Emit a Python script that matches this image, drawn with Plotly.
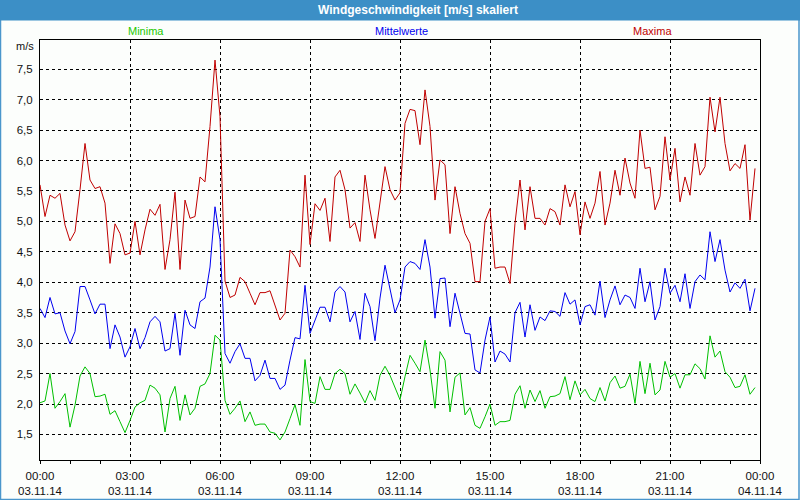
import pandas as pd
import plotly.graph_objects as go

# 10-minute values, 03.11.14 00:00 .. 23:50
times = pd.date_range("2014-11-03 00:00", periods=144, freq="10min")

maxima = [5.60, 5.08, 5.43, 5.38, 5.46, 4.94, 4.68, 4.83, 5.52, 6.28,
          5.68, 5.54, 5.57, 5.30, 4.31, 4.96, 4.80, 4.45, 4.48, 5.00,
          4.45, 4.86, 5.20, 5.10, 5.28, 4.21, 4.70, 5.48, 4.21, 5.35,
          5.05, 5.08, 5.73, 5.65, 6.56, 7.65, 6.72, 4.02, 3.75, 3.79,
          4.08, 4.01, 3.82, 3.63, 3.83, 3.83, 3.86, 3.60, 3.38, 3.49,
          4.53, 4.42, 4.25, 5.76, 4.62, 5.29, 5.18, 5.38, 4.67, 5.73,
          5.84, 5.52, 4.89, 4.98, 4.67, 5.76, 5.19, 4.72, 5.35, 5.90,
          5.52, 5.35, 5.47, 6.61, 6.84, 6.82, 6.26, 7.16, 6.56, 5.35,
          6.01, 5.93, 4.80, 5.57, 5.13, 4.80, 4.64, 4.01, 4.01, 5.00,
          5.21, 4.23, 4.25, 4.25, 3.98, 4.97, 5.68, 4.86, 5.57, 5.05,
          5.05, 4.94, 5.21, 5.16, 4.94, 5.60, 5.24, 5.49, 4.78, 5.32,
          5.05, 5.30, 5.82, 4.94, 5.30, 5.84, 5.43, 6.04, 5.63, 5.38,
          6.50, 5.87, 5.89, 5.19, 5.41, 6.39, 5.68, 6.20, 5.32, 5.73,
          5.43, 6.28, 5.76, 5.90, 7.04, 6.47, 7.04, 6.28, 5.83, 5.95,
          5.87, 6.26, 5.02, 5.87]

mittel = [3.57, 3.42, 3.75, 3.48, 3.50, 3.20, 2.99, 3.19, 3.93, 3.93,
          3.71, 3.48, 3.64, 3.64, 2.91, 3.30, 3.10, 2.77, 2.94, 3.24,
          2.91, 3.09, 3.35, 3.44, 3.35, 2.87, 2.91, 3.49, 2.80, 3.54,
          3.30, 3.24, 3.68, 3.74, 4.25, 5.24, 4.70, 2.83, 2.67, 2.86,
          2.99, 2.75, 2.75, 2.38, 2.47, 2.72, 2.42, 2.42, 2.24, 2.31,
          2.72, 3.09, 3.07, 3.95, 3.16, 3.38, 3.59, 3.59, 3.35, 3.84,
          3.93, 3.84, 3.35, 3.52, 3.06, 3.82, 3.60, 3.04, 3.74, 4.28,
          3.87, 3.50, 3.71, 4.25, 4.34, 4.31, 4.21, 4.70, 4.25, 3.41,
          4.06, 4.07, 3.27, 3.82, 3.49, 3.16, 3.15, 2.56, 2.51, 3.05,
          3.43, 2.69, 2.87, 2.82, 2.69, 3.50, 3.67, 3.10, 3.63, 3.21,
          3.43, 3.37, 3.53, 3.52, 3.44, 3.83, 3.64, 3.71, 3.30, 3.60,
          3.63, 3.46, 4.02, 3.42, 3.71, 3.94, 3.63, 3.79, 3.75, 3.57,
          4.23, 3.68, 4.01, 3.38, 3.60, 4.23, 3.82, 3.95, 3.68, 4.14,
          3.57, 4.01, 4.12, 4.04, 4.83, 4.34, 4.70, 4.20, 3.84, 3.99,
          3.90, 4.05, 3.53, 3.90]

minima = [2.02, 2.05, 2.50, 1.93, 2.04, 2.17, 1.62, 1.98, 2.46, 2.61,
          2.50, 2.12, 2.13, 2.16, 1.83, 1.89, 1.71, 1.53, 1.73, 1.95,
          2.02, 2.06, 2.31, 2.26, 2.15, 1.54, 2.09, 2.29, 1.73, 2.15,
          1.82, 1.93, 2.29, 2.33, 2.50, 3.13, 3.05, 2.06, 1.83, 1.93,
          2.05, 1.71, 1.87, 1.65, 1.67, 1.67, 1.54, 1.52, 1.41, 1.54,
          1.76, 1.99, 1.65, 2.73, 2.04, 2.01, 2.45, 2.24, 2.24, 2.50,
          2.57, 2.50, 2.16, 2.33, 2.18, 2.02, 2.22, 2.06, 2.47, 2.62,
          2.47, 2.28, 2.07, 2.45, 2.80, 2.67, 2.53, 3.05, 2.56, 1.93,
          2.86, 2.72, 1.87, 2.44, 2.51, 1.82, 1.94, 1.65, 1.60, 1.79,
          2.00, 1.65, 1.71, 1.71, 1.73, 2.16, 2.30, 1.93, 2.23, 2.04,
          2.22, 1.93, 2.12, 2.13, 2.17, 2.45, 2.07, 2.38, 2.15, 2.24,
          2.09, 2.04, 2.27, 2.05, 2.35, 2.46, 2.26, 2.29, 2.49, 2.01,
          2.70, 2.17, 2.67, 2.15, 2.23, 2.70, 2.44, 2.50, 2.26, 2.48,
          2.48, 2.66, 2.58, 2.41, 3.12, 2.77, 2.87, 2.53, 2.44, 2.27,
          2.29, 2.48, 2.16, 2.27]

tick_times = ["2014-11-03 00:00", "2014-11-03 03:00", "2014-11-03 06:00",
              "2014-11-03 09:00", "2014-11-03 12:00", "2014-11-03 15:00",
              "2014-11-03 18:00", "2014-11-03 21:00", "2014-11-04 00:00"]
tick_labels = ["00:00<br>03.11.14", "03:00<br>03.11.14", "06:00<br>03.11.14",
               "09:00<br>03.11.14", "12:00<br>03.11.14", "15:00<br>03.11.14",
               "18:00<br>03.11.14", "21:00<br>03.11.14", "00:00<br>04.11.14"]
y_ticks = [1.5, 2.0, 2.5, 3.0, 3.5, 4.0, 4.5, 5.0, 5.5, 6.0, 6.5, 7.0, 7.5]

RED, BLUE, GREEN = "#c00000", "#0000f0", "#00c000"
FONT = "Liberation Sans"

fig = go.Figure()
for vals, col, name in [(maxima, RED, "Maxima"), (mittel, BLUE, "Mittelwerte"),
                        (minima, GREEN, "Minima")]:
    fig.add_trace(go.Scatter(x=times, y=vals, mode="lines", name=name,
                             line=dict(color=col, width=1), showlegend=False))

def px_x(px):
    return (px - 40) / 720.0

def px_y(py):
    return (460 - py) / 420.0

shapes = [
    # window frame
    dict(type="rect", xref="paper", yref="paper", x0=px_x(0.5), x1=px_x(799),
         y0=px_y(499.5), y1=px_y(0), line=dict(color="#4a96cc", width=1.5),
         fillcolor="rgba(0,0,0,0)", layer="above"),
    # title bar
    dict(type="rect", xref="paper", yref="paper", x0=px_x(0), x1=px_x(800),
         y0=px_y(20.5), y1=px_y(0), line=dict(width=0), fillcolor="#3c8fc6",
         layer="above"),
]

annotations = [
    dict(text="<b>Windgeschwindigkeit [m/s] skaliert</b>", xref="paper", yref="paper",
         x=px_x(418), y=px_y(10), xanchor="center", yanchor="middle", showarrow=False,
         font=dict(family=FONT, size=12, color="white")),
    dict(text="Minima", xref="paper", yref="paper", x=px_x(146), y=px_y(31),
         xanchor="center", yanchor="middle", showarrow=False,
         font=dict(family=FONT, size=11, color="#22c800")),
    dict(text="Mittelwerte", xref="paper", yref="paper", x=px_x(401), y=px_y(31),
         xanchor="center", yanchor="middle", showarrow=False,
         font=dict(family=FONT, size=11, color=BLUE)),
    dict(text="Maxima", xref="paper", yref="paper", x=px_x(652), y=px_y(31),
         xanchor="center", yanchor="middle", showarrow=False,
         font=dict(family=FONT, size=11, color=RED)),
    dict(text="m/s", xref="paper", yref="paper", x=px_x(36), y=px_y(46),
         xanchor="right", yanchor="middle", showarrow=False,
         font=dict(family=FONT, size=11, color="#111111")),
]

fig.update_layout(
    width=800, height=500,
    margin=dict(l=40, r=40, t=40, b=40),
    paper_bgcolor="#fcfefc", plot_bgcolor="#fcfefc",
    separators=",.",
    font=dict(family=FONT, size=11, color="#111111"),
    shapes=shapes, annotations=annotations,
    xaxis=dict(
        range=["2014-11-03 00:00", "2014-11-04 00:00"],
        tickvals=tick_times, ticktext=tick_labels,
        tickfont=dict(family=FONT, size=11.5, color="#111111"),
        showgrid=True, gridcolor="black", griddash="3px,3px", gridwidth=1,
        showline=True, linecolor="black", linewidth=1, mirror=True,
        ticks="outside", ticklen=3, tickcolor="black", ticklabelstandoff=2,
        minor=dict(dtick=3600000, ticks="outside", ticklen=3, tickcolor="black",
                   showgrid=False),
        zeroline=False, tickangle=0, automargin=False,
    ),
    yaxis=dict(
        range=[1.08, 7.98], tickvals=y_ticks, tickformat=".1f",
        tickfont=dict(family=FONT, size=11.5, color="#111111"),
        showgrid=True, gridcolor="black", griddash="3px,3px", gridwidth=1,
        showline=True, linecolor="black", linewidth=1, mirror=True,
        ticks="", ticklabelstandoff=4, zeroline=False, automargin=False,
    ),
)

fig.write_html("out.html", config={"displayModeBar": False},
               post_script="document.body.style.margin='0';document.body.style.overflow='hidden';")
